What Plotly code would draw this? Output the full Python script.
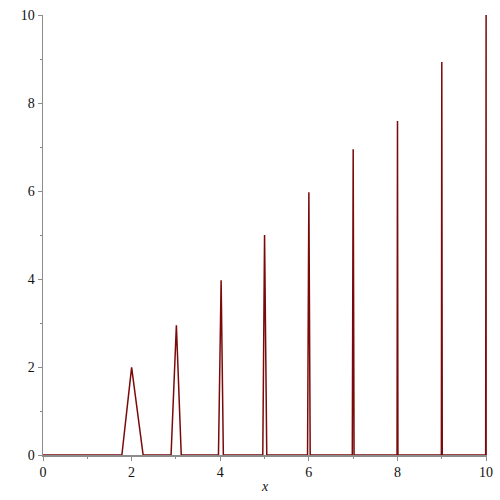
import plotly.graph_objects as go

# Spike data
peak_x = [2.0, 3.01, 4.02, 5.0, 6.0, 7.0, 8.0, 9.0, 10.0]
peak_y = [1.99, 2.95, 3.97, 5.0, 5.97, 6.95, 7.59, 8.93, 10.0]
base_left = [1.78, 2.89, 3.96, 4.96, 5.97, 6.98, 7.99, 8.99, 9.99]
base_right = [2.26, 3.12, 4.07, 5.05, 6.03, 7.02, 8.01, 9.01, 10.0]
x_start = 0.0
x_end = 10.0

xs = [x_start]
ys = [0.0]
for bl, px, py, br in zip(base_left, peak_x, peak_y, base_right):
    xs += [bl, px, br]
    ys += [0.0, py, 0.0]
if xs[-1] < x_end:
    xs.append(x_end)
    ys.append(0.0)

serif = "Liberation Serif, Times New Roman, serif"

fig = go.Figure()
fig.add_trace(go.Scatter(x=xs, y=ys, mode="lines",
                         line=dict(color="#7a0a0a", width=1.5),
                         showlegend=False, hoverinfo="skip"))

axis_common = dict(
    showgrid=False, zeroline=False, showline=True, linecolor="#8c8c8c",
    linewidth=1.5, ticks="outside", ticklen=4, tickwidth=1, tickcolor="#8c8c8c",
    tickfont=dict(family=serif, size=14, color="#111111"),
    minor=dict(ticks="outside", ticklen=2, tickcolor="#8c8c8c", dtick=1),
    automargin=False,
)

fig.update_layout(
    width=500, height=500,
    margin=dict(l=43, r=13, t=15, b=45),
    paper_bgcolor="white", plot_bgcolor="white",
    xaxis=dict(range=[0, 10.02], tickmode="array", tickvals=[0, 2, 4, 6, 8, 10],
               title=dict(text="<i>x</i>", font=dict(family=serif, size=14, color="#111111"),
                          standoff=2),
               **axis_common),
    yaxis=dict(range=[0, 10], tickmode="array", tickvals=[0, 2, 4, 6, 8, 10],
               **axis_common),
)

fig.write_html("out.html",
               config={"displayModeBar": False, "staticPlot": True},
               post_script="document.body.style.margin='0';document.body.style.overflow='hidden';")
